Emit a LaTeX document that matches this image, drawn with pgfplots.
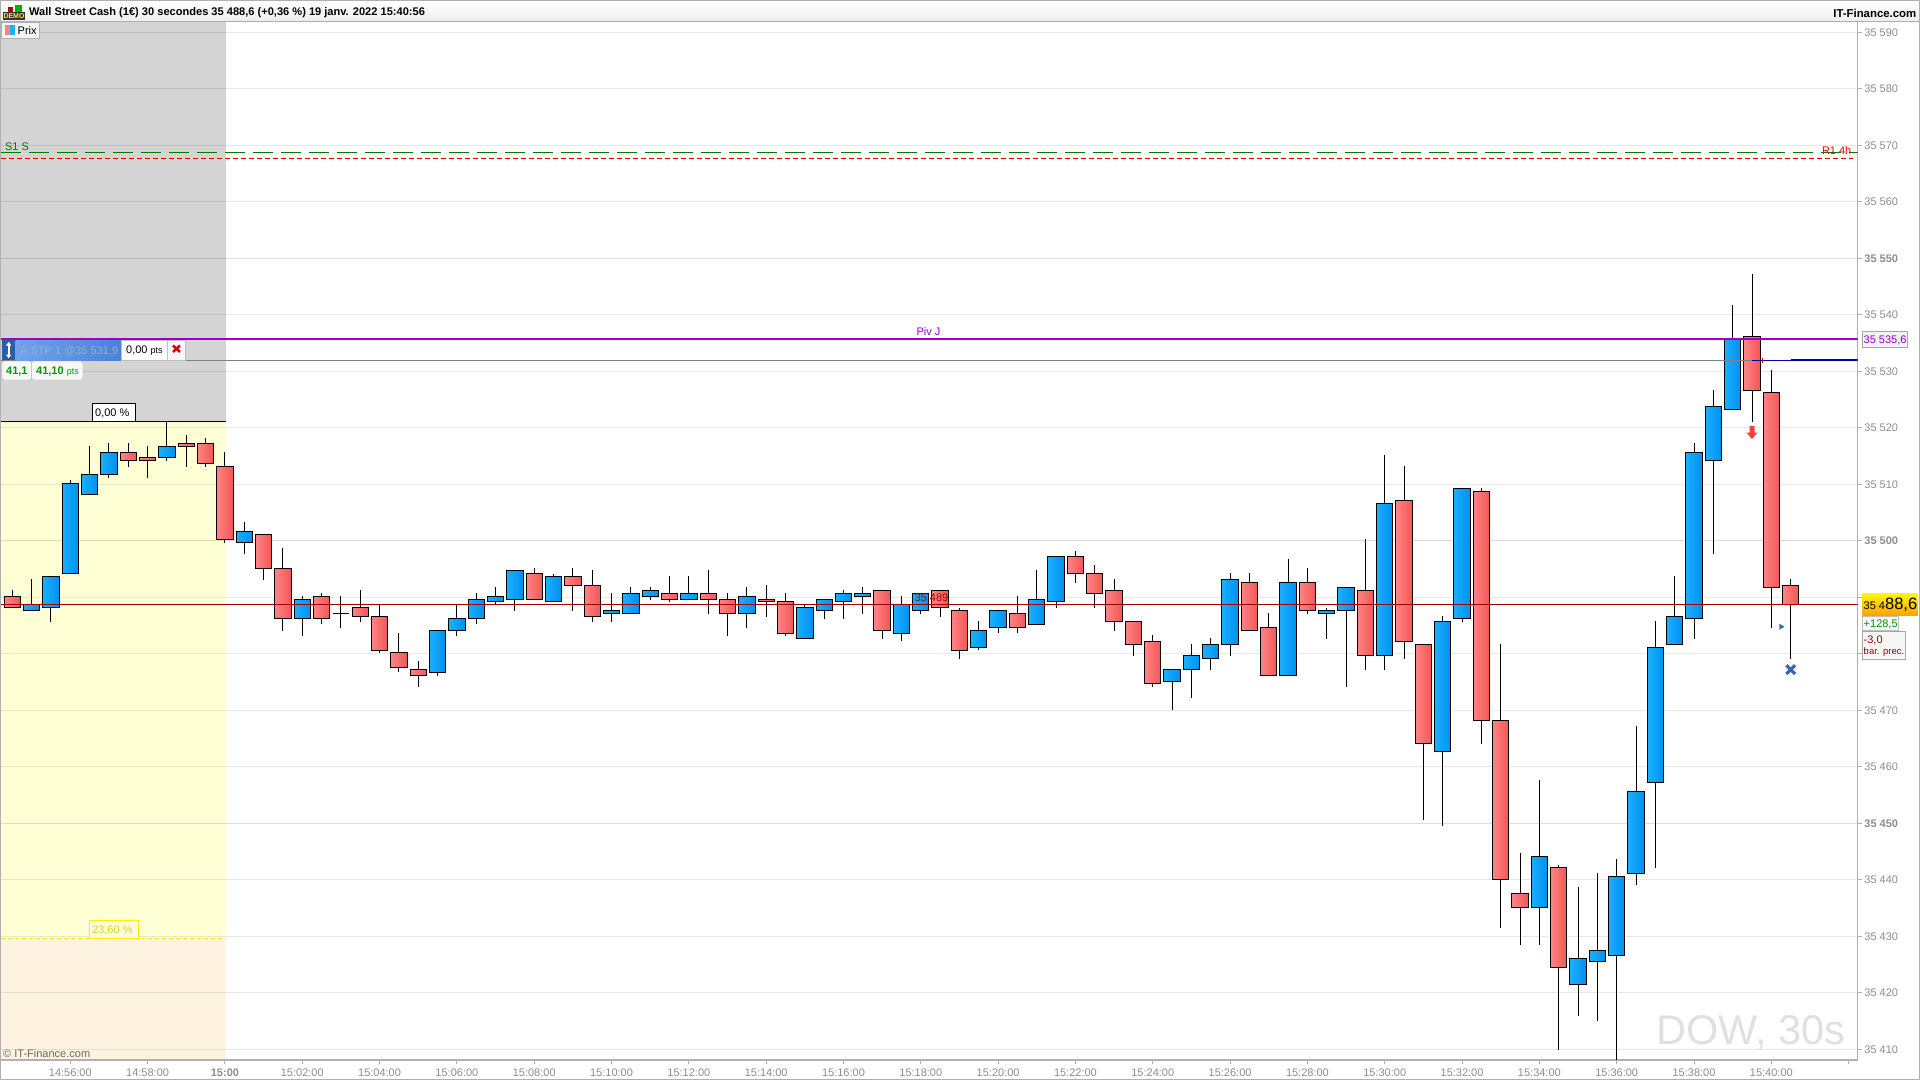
\documentclass[border=0pt]{standalone}
\usepackage{fontspec}
\setmainfont{Liberation Sans}
\usepackage{pgfplots}
\pgfplotsset{compat=1.18}

\definecolor{redL}{HTML}{FF8484}
\definecolor{redR}{HTML}{F25656}
\definecolor{bluL}{HTML}{1AB0FF}
\definecolor{bluR}{HTML}{0090F0}
\definecolor{axgray}{HTML}{B0B0B0}
\definecolor{tickgray}{HTML}{8C8C8C}
\definecolor{purp}{HTML}{9A00C8}
\definecolor{pricered}{HTML}{A00000}
\definecolor{greenl}{HTML}{007800}
\definecolor{markblue}{HTML}{3366BB}
\definecolor{zoneyellow}{HTML}{FFFFD5}
\definecolor{zonepeach}{HTML}{FEF3E1}
\definecolor{zonegray}{HTML}{D4D4D4}

\newcommand{\fs}[1]{\fontsize{#1}{#1}\selectfont}
% colour, index, body top, body bottom, high, low
\newcommand{\candle}[6]{%
  \pgfmathsetmacro{\xl}{#2-0.4225}\pgfmathsetmacro{\xr}{#2+0.4225}%
  \addplot[black, line width=1pt] coordinates {(#2,#5)(#2,#6)};
  \addplot[draw=black, line width=1pt, left color=#1L, right color=#1R]
    coordinates {(\xl,#4)(\xr,#4)(\xr,#3)(\xl,#3)} -- cycle;
}

\pgfdeclareplotmark{downarrow}{%
  \pgfpathmoveto{\pgfqpoint{-2.5pt}{6.5pt}}\pgfpathlineto{\pgfqpoint{2.5pt}{6.5pt}}%
  \pgfpathlineto{\pgfqpoint{2.5pt}{0pt}}\pgfpathlineto{\pgfqpoint{5.5pt}{0pt}}%
  \pgfpathlineto{\pgfqpoint{0pt}{-6.5pt}}\pgfpathlineto{\pgfqpoint{-5.5pt}{0pt}}%
  \pgfpathlineto{\pgfqpoint{-2.5pt}{0pt}}\pgfpathclose\pgfusepathqfill}

\begin{document}
\begin{tikzpicture}
\begin{axis}[
  set layers,
  at={(1pt,-1060pt)}, anchor=south west,
  scale only axis, width=1856.5pt, height=1038.5pt,
  xmin=-0.585, xmax=95.458,
  ymin=35408.11, ymax=35591.91,
  axis x line*=bottom, axis y line*=right,
  axis line style={axgray, line width=1.3pt, -},
  tick style={axgray, line width=1pt},
  major tick length=4.5pt,
  tick align=outside,
  ymajorgrids,
  grid style={black, opacity=0.09, line width=1pt},
  ytick={35410,35420,35430,35440,35460,35470,35480,35490,35510,35520,35530,35540,35560,35570,35580,35590},
  yticklabels={35 410,35 420,35 430,35 440,35 460,35 470,35 480,35 490,35 510,35 520,35 530,35 540,35 560,35 570,35 580,35 590},
  extra y ticks={35450,35500,35550},
  extra y tick labels={\bfseries 35 450,\bfseries 35 500,\bfseries 35 550},
  extra y tick style={grid style={black, opacity=0.13, line width=1pt}},
  yticklabel style={font=\fs{11}, text=tickgray, anchor=west, inner sep=0pt, xshift=2.2pt},
  xtick={3,7,11,15,19,23,27,31,35,39,43,47,51,55,59,63,67,71,75,79,83,87,91,95},
  xticklabels={14:56:00,14:58:00,\bfseries 15:00,15:02:00,15:04:00,15:06:00,15:08:00,15:10:00,15:12:00,15:14:00,15:16:00,15:18:00,15:20:00,15:22:00,15:24:00,15:26:00,15:28:00,15:30:00,15:32:00,15:34:00,15:36:00,15:38:00,15:40:00,{}},
  xticklabel style={font=\fs{11}, text=tickgray, inner sep=0pt, anchor=north, yshift=-4pt},
]
% session zones
\addplot[on layer=axis background, draw=none, fill=zonegray] coordinates {(-0.6,35521.15)(11.08,35521.15)(11.08,35592)(-0.6,35592)} -- cycle;
\addplot[on layer=axis background, draw=none, fill=zoneyellow] coordinates {(-0.6,35429.65)(11.08,35429.65)(11.08,35521.15)(-0.6,35521.15)} -- cycle;
\addplot[on layer=axis background, draw=none, fill=zonepeach] coordinates {(-0.6,35408)(11.08,35408)(11.08,35429.65)(-0.6,35429.65)} -- cycle;

\node[anchor=south east, inner sep=0pt, font=\fs{41.5}, text=black!12] at (axis cs:94.85,35409.8) {DOW, 30s};

% candles
\candle{red}{0}{35490.2}{35488.2}{35491.3}{35488.2}
\candle{blu}{1}{35488.8}{35487.7}{35493.2}{35487.7}
\candle{blu}{2}{35493.7}{35488.2}{35493.7}{35485.7}
\candle{blu}{3}{35510.2}{35494.2}{35510.8}{35494.2}
\candle{blu}{4}{35511.8}{35508.2}{35516.8}{35508.2}
\candle{blu}{5}{35515.7}{35511.8}{35517.3}{35511.2}
\candle{red}{6}{35515.7}{35514.2}{35517.3}{35513.1}
\candle{red}{7}{35514.8}{35514.2}{35516.8}{35511.2}
\candle{blu}{8}{35516.7}{35514.8}{35521.1}{35514.2}
\candle{red}{9}{35517.3}{35516.7}{35518.7}{35513.1}
\candle{red}{10}{35517.3}{35513.7}{35518.2}{35513.1}
\candle{red}{11}{35513.2}{35500.3}{35515.7}{35499.7}
\candle{blu}{12}{35501.7}{35499.7}{35503.3}{35497.7}
\candle{red}{13}{35501.1}{35495.1}{35501.1}{35493.1}
\candle{red}{14}{35495.1}{35486.3}{35498.7}{35484.1}
\candle{blu}{15}{35489.6}{35486.3}{35490.2}{35483.2}
\candle{red}{16}{35490.2}{35486.3}{35490.7}{35485.2}
% doji: open and close at the same price
\addplot[black, line width=1pt] coordinates {(17,35490.2)(17,35484.6)};
\addplot[black, line width=1pt] coordinates {(16.5775,35487.2)(17.4225,35487.2)};
\candle{red}{18}{35488.2}{35486.6}{35491.3}{35485.7}
\candle{red}{19}{35486.6}{35480.6}{35488.8}{35480.2}
\candle{red}{20}{35480.3}{35477.6}{35483.7}{35476.7}
\candle{red}{21}{35477.3}{35476.2}{35478.7}{35474.2}
\candle{blu}{22}{35484.2}{35476.7}{35484.2}{35476.1}
\candle{blu}{23}{35486.3}{35484.2}{35488.8}{35483.2}
\candle{blu}{24}{35489.6}{35486.3}{35490.7}{35485.2}
\candle{blu}{25}{35490.2}{35489.3}{35491.8}{35488.8}
\candle{blu}{26}{35494.8}{35489.6}{35494.8}{35487.6}
\candle{red}{27}{35494.2}{35489.6}{35495.2}{35489.6}
\candle{blu}{28}{35493.7}{35489.3}{35494.2}{35489.3}
\candle{red}{29}{35493.7}{35492.1}{35495.2}{35487.6}
\candle{red}{30}{35492.1}{35486.6}{35494.8}{35485.7}
\candle{blu}{31}{35487.7}{35487.2}{35490.8}{35485.7}
\candle{blu}{32}{35490.7}{35487.2}{35491.8}{35487.2}
\candle{blu}{33}{35491.2}{35490.2}{35491.8}{35489.6}
\candle{red}{34}{35490.7}{35489.6}{35493.8}{35489.2}
\candle{blu}{35}{35490.7}{35489.6}{35493.8}{35489.6}
\candle{red}{36}{35490.7}{35489.6}{35494.8}{35487.1}
\candle{red}{37}{35489.6}{35487.2}{35490.8}{35483.2}
\candle{blu}{38}{35490.2}{35487.2}{35491.8}{35484.6}
\candle{red}{39}{35489.6}{35489.3}{35492.2}{35486.6}
\candle{red}{40}{35489.3}{35483.6}{35490.8}{35483.2}
\candle{blu}{41}{35488.2}{35482.7}{35488.8}{35482.7}
\candle{blu}{42}{35489.6}{35487.7}{35489.6}{35486.2}
\candle{blu}{43}{35490.7}{35489.3}{35491.3}{35486.2}
\candle{blu}{44}{35490.7}{35490.2}{35491.8}{35487.1}
\candle{red}{45}{35491.2}{35484.2}{35491.2}{35482.7}
\candle{blu}{46}{35488.8}{35483.6}{35490.2}{35482.2}
\candle{blu}{47}{35490.7}{35487.7}{35490.7}{35487.1}
\candle{red}{48}{35491.2}{35488.2}{35491.2}{35486.6}
\candle{red}{49}{35487.7}{35480.6}{35488.2}{35479.1}
\candle{blu}{50}{35484.2}{35481.1}{35485.8}{35480.6}
\candle{blu}{51}{35487.7}{35484.7}{35487.7}{35483.6}
\candle{red}{52}{35487.2}{35484.7}{35490.2}{35483.6}
\candle{blu}{53}{35489.6}{35485.2}{35494.8}{35485.2}
\candle{blu}{54}{35497.2}{35489.3}{35497.2}{35488.2}
\candle{red}{55}{35497.2}{35494.2}{35498.2}{35492.6}
\candle{red}{56}{35494.2}{35490.7}{35495.7}{35488.2}
\candle{red}{57}{35491.2}{35485.7}{35493.2}{35484.1}
\candle{red}{58}{35485.7}{35481.7}{35485.7}{35479.7}
\candle{red}{59}{35482.2}{35474.8}{35483.3}{35474.2}
\candle{blu}{60}{35477.3}{35475.1}{35477.3}{35470.1}
\candle{blu}{61}{35479.7}{35477.3}{35481.7}{35472.1}
\candle{blu}{62}{35481.7}{35479.2}{35482.8}{35477.2}
\candle{blu}{63}{35493.2}{35481.7}{35494.3}{35479.7}
\candle{red}{64}{35492.6}{35484.2}{35494.3}{35484.2}
\candle{red}{65}{35484.7}{35476.2}{35487.2}{35476.2}
\candle{blu}{66}{35492.6}{35476.2}{35496.8}{35476.2}
\candle{red}{67}{35492.6}{35487.7}{35495.2}{35487.1}
\candle{blu}{68}{35487.7}{35487.2}{35488.2}{35482.7}
\candle{blu}{69}{35491.8}{35487.7}{35491.8}{35474.2}
\candle{red}{70}{35491.2}{35479.7}{35500.3}{35477.2}
\candle{blu}{71}{35506.6}{35479.7}{35515.2}{35477.1}
\candle{red}{72}{35507.2}{35482.2}{35513.2}{35479.1}
\candle{red}{73}{35481.7}{35464.2}{35481.7}{35450.6}
\candle{blu}{74}{35485.8}{35462.7}{35486.7}{35449.5}
\candle{blu}{75}{35509.3}{35486.2}{35509.3}{35485.6}
\candle{red}{76}{35508.8}{35468.2}{35509.3}{35464.0}
\candle{red}{77}{35468.2}{35440.1}{35481.7}{35431.5}
\candle{red}{78}{35437.6}{35435.1}{35444.7}{35428.5}
\candle{blu}{79}{35444.2}{35435.1}{35457.7}{35428.5}
\candle{red}{80}{35442.2}{35424.5}{35442.6}{35409.9}
\candle{blu}{81}{35426.1}{35421.5}{35438.7}{35415.9}
\candle{blu}{82}{35427.5}{35425.5}{35441.2}{35415.0}
\candle{blu}{83}{35440.6}{35426.6}{35443.7}{35408.1}
\candle{blu}{84}{35455.7}{35441.1}{35467.2}{35439.1}
\candle{blu}{85}{35481.2}{35457.2}{35485.8}{35442.1}
\candle{blu}{86}{35486.6}{35481.7}{35493.8}{35481.7}
\candle{blu}{87}{35515.7}{35486.2}{35517.3}{35482.6}
\candle{blu}{88}{35523.8}{35514.2}{35526.7}{35497.7}
\candle{blu}{89}{35535.7}{35523.3}{35541.7}{35523.3}
\candle{red}{90}{35536.2}{35526.6}{35547.2}{35521.1}
\candle{red}{91}{35526.3}{35491.7}{35530.2}{35484.6}
\candle{red}{92}{35492.1}{35488.7}{35493.2}{35479.1}

% levels
\addplot[greenl, line width=1.25pt, dash pattern=on 20pt off 8pt] coordinates {(-0.585,35568.76)(95.458,35568.76)};
\addplot[red!90!black, line width=1.2pt, dash pattern=on 5pt off 3pt] coordinates {(-0.585,35567.7)(95.2,35567.7)};
\addplot[black!50, line width=1pt] coordinates {(-0.585,35531.95)(95.458,35531.95)};
\addplot[purp, line width=2pt] coordinates {(-0.585,35535.75)(95.458,35535.75)};
\addplot[pricered, line width=1.1pt] coordinates {(-0.585,35488.76)(95.458,35488.76)};
\addplot[black, line width=1pt] coordinates {(-0.585,35521.15)(11.08,35521.15)};
\addplot[yellow!95!black, line width=1pt, dash pattern=on 4pt off 3pt] coordinates {(-0.585,35429.65)(11.08,35429.65)};
\addplot[blue!75!black, line width=1pt] coordinates {(90,35531.95)(92,35531.95)};
\addplot[blue!65!black, line width=2pt] coordinates {(92,35531.95)(95.458,35531.95)};
% trade marks
\addplot[only marks, mark=downarrow, color=red!75!white] coordinates {(90,35519.17)};
\addplot[only marks, mark=|, mark size=2.5pt, mark options={line width=1pt}, color=red!80!black] coordinates {(90.55,35531.95)};
\addplot[only marks, mark=x, mark size=6.2pt, mark options={line width=3.2pt}, color=markblue] coordinates {(92,35477.2)};
\addplot[only marks, mark=triangle*, mark size=3pt, mark options={rotate=-90}, color=markblue] coordinates {(91.5,35484.8)};

\node[font=\fs{11}, text=pricered!85!red, inner sep=0pt] at (axis cs:47.55,35489.9) {35 489};
\node[font=\fs{11}, text=purp, inner sep=0pt, anchor=south] at (axis cs:47.4,35536.3) {Piv J};
\node[font=\fs{11}, text=greenl, inner sep=0pt, anchor=south west] at (axis cs:-0.38,35569) {S1 S};
\node[font=\fs{11}, text=red, inner sep=0pt, anchor=east] at (axis cs:95.15,35569) {R1 4h};
\end{axis}

\begin{scope}[x=1pt, y=-1pt]
% title bar
\shade[top color=white, bottom color=black!7] (0,1) rectangle (1920,21);
\draw[axgray, line width=1pt] (0,21.5) -- (1920,21.5);
\fill[black!80] (3,11.5) rectangle (25,19.5);
\fill[red!70!black] (8,7) rectangle (13,11.5);
\fill[green!70!black] (15,5) rectangle (22,11.5);
\node[font=\fs{7}\bfseries, text=yellow, inner sep=0pt] at (14,15.6) {DEMO};
\node[anchor=west, font=\fs{11.07}\bfseries, inner sep=0pt] at (29,13) {Wall Street Cash (1€) 30 secondes 35 488,6 (+0,36 \%) 19 janv. 2022 15:40:56};
\node[anchor=east, font=\fs{11.4}\bfseries, inner sep=0pt] at (1916.5,13) {IT-Finance.com};
% series tab
\draw[axgray, fill=white!96!black, line width=1pt] (1,22) rectangle (39.5,38.5);
\fill[redL] (5,25) rectangle (10,35);
\fill[bluL] (10,25) rectangle (15,35);
\node[anchor=west, font=\fs{11}, inner sep=0pt] at (17.5,31) {Prix};
% order tag
\definecolor{tagdark}{HTML}{2A5CA8}
\definecolor{tagl}{HTML}{6FA4EC}
\definecolor{tagr}{HTML}{4A82D6}
\fill[tagdark] (2,340) rectangle (15.5,360);
\fill[white] (6,345.5) -- (8.7,341.8) -- (11.4,345.5) -- cycle;
\fill[white] (6,354.5) -- (8.7,358.2) -- (11.4,354.5) -- cycle;
\draw[white, line width=2pt] (8.7,345) -- (8.7,355);
\shade[left color=tagl, right color=tagr] (15.5,340) rectangle (121.5,360);
\node[anchor=west, font=\fs{11}, text=tagl!55!white!85!black, inner sep=0pt] at (20,351) {A:STP 1 @35 531,9};
\draw[black!25, fill=white] (121.5,340) rectangle (167.5,360);
\node[anchor=west, inner sep=0pt, font=\fs{11}] at (126,351) {0,00 \fs{9}pts};
\draw[black!25, fill=black!3] (167.5,340) rectangle (185,360);
\draw[red!85!black, line width=2.4pt] (173,345.5) -- (180,352) (173,352) -- (180,345.5);
\draw[black!35, fill=black!3, rounded corners=2pt] (2,361) rectangle (31.5,380);
\draw[black!35, fill=black!3, rounded corners=2pt] (31.5,361) rectangle (83,380);
\node[anchor=west, inner sep=0pt, font=\fs{11}\bfseries, text=green!60!black] at (6,371.5) {41,1};
\node[anchor=west, inner sep=0pt, font=\fs{11}, text=green!60!black] at (36,371.5) {\bfseries 41,10 \fs{9}\mdseries pts};
% fibonacci tags
\draw[black, fill=white, line width=1pt] (92.5,403.5) rectangle (135.5,421);
\node[anchor=west, inner sep=0pt, font=\fs{11}] at (95,413) {0,00 \%};
\draw[yellow, fill=yellow!12, line width=1pt] (89.5,920.5) rectangle (138,938);
\node[anchor=west, inner sep=0pt, font=\fs{11}, text=yellow!85!black] at (92,930.5) {23,60 \%};
\node[anchor=west, inner sep=0pt, font=\fs{11}, text=black!58] at (3,1054) {© IT-Finance.com};
% right hand tags
\draw[black!35, fill=black!5, line width=1pt] (1862.5,331.5) rectangle (1907,347.5);
\node[anchor=west, inner sep=0pt, font=\fs{11}, text=purp] at (1863.5,340) {35 535,6};
\shade[top color=yellow!95!orange, bottom color=orange!75!yellow] (1862.5,593.5) rectangle (1917.5,615.5);
\node[anchor=base west, inner sep=0pt, font=\fs{11}] at (1863.5,609.5) {35 4\fs{16.5}88,6};
\draw[black!25, fill=black!3, line width=1pt] (1862.5,616) rectangle (1898,630.5);
\node[anchor=west, inner sep=0pt, font=\fs{11}, text=green!60!black] at (1863.5,624) {+128,5};
\draw[black!35, fill=black!3, line width=1pt] (1862.5,631) rectangle (1905,659.5);
\node[anchor=west, inner sep=0pt, font=\fs{11}, text=pricered] at (1863.5,640.5) {-3,0};
\node[anchor=west, inner sep=0pt, font=\fs{9.5}, text=pricered] at (1863.5,652.5) {bar. prec.};
% frame
\draw[axgray, line width=1.5pt] (0.5,0.5) rectangle (1919.5,1079.3);
\end{scope}
\pgfresetboundingbox
\path[use as bounding box] (0pt,0pt) rectangle (1920pt,-1080pt);
\end{tikzpicture}
\end{document}
